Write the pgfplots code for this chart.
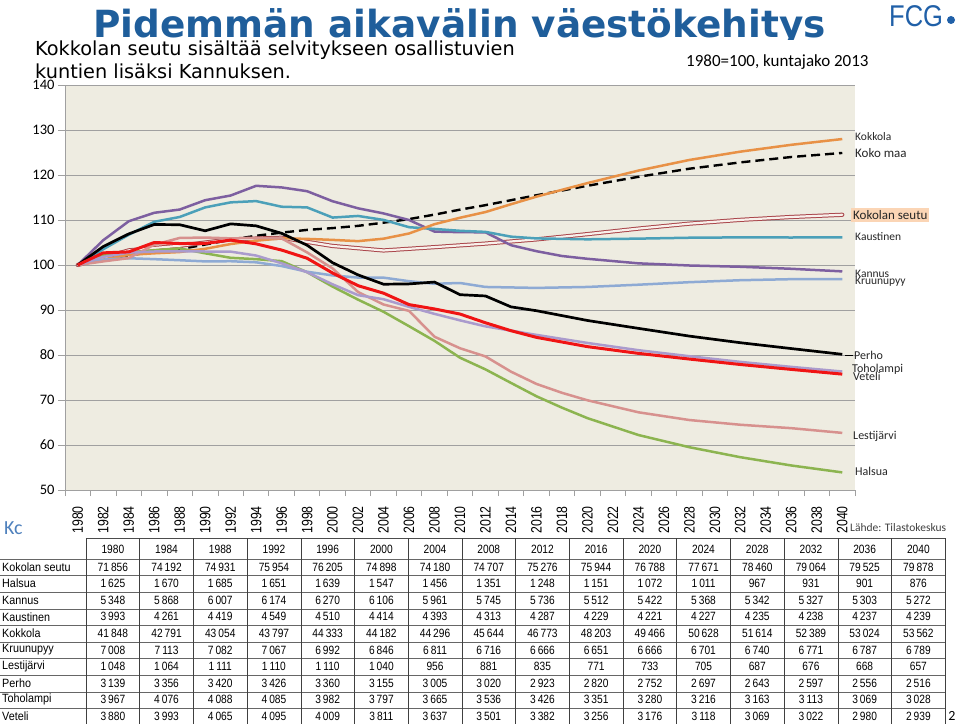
\documentclass[border=0pt]{standalone}
\usepackage{fontspec}
\usepackage{pgfplots}
\pgfplotsset{compat=1.18}
\setmainfont{Liberation Sans}
\newfontfamily\titlefont{DejaVu Sans}
\newfontfamily\calfont{Carlito}
\newfontfamily\narrowfont[FakeStretch=0.82]{Liberation Sans}
\newfontfamily\tabnum[FakeStretch=0.85]{Liberation Sans}
\newfontfamily\tablab[FakeStretch=0.9]{Liberation Sans}
\newfontfamily\fcgfont[FakeStretch=0.85]{Liberation Sans}
\definecolor{titleblue}{RGB}{31,94,155}
\definecolor{kcblue}{RGB}{79,129,189}
\definecolor{fcgblue}{RGB}{32,96,168}
\definecolor{bgbeige}{RGB}{238,236,225}
\definecolor{gridgray}{RGB}{160,160,160}
\definecolor{cOrange}{RGB}{232,145,70}
\definecolor{cTeal}{RGB}{75,160,185}
\definecolor{cPurple}{RGB}{125,95,160}
\definecolor{cLblue}{RGB}{142,170,212}
\definecolor{cRose}{RGB}{215,145,142}
\definecolor{cLav}{RGB}{170,155,205}
\definecolor{cGreen}{RGB}{140,180,80}
\definecolor{cRed}{RGB}{240,20,20}
\definecolor{cKs}{RGB}{170,70,75}
\definecolor{cKsIn}{RGB}{248,240,235}
\definecolor{lblfill}{RGB}{251,213,181}
\begin{document}
\begin{tikzpicture}[x=1pt,y=1pt]
\useasboundingbox (0,0) rectangle (960,724);
\fill[white] (0,0) rectangle (960,724);
% title
\node[anchor=base, inner sep=0pt, text=titleblue, font=\titlefont\bfseries\fontsize{37.4}{40}\selectfont] at (459.5,686) {Pidemmän aikavälin väestökehitys};
\fill[white] (28,642) rectangle (860,684);
\node[anchor=base west, inner sep=0pt, font=\titlefont\fontsize{19.3}{22}\selectfont] at (35,668) {Kokkolan seutu sisältää selvitykseen osallistuvien};
\node[anchor=base west, inner sep=0pt, font=\titlefont\fontsize{19.3}{22}\selectfont] at (35,645) {kuntien lisäksi Kannuksen.};
\node[anchor=west, inner sep=0pt, font=\calfont\fontsize{17}{18}\selectfont] at (686,662) {1980=100, kuntajako 2013};
% logo
\node[anchor=base west, inner sep=0pt, text=fcgblue, font=\fcgfont\fontsize{30}{32}\selectfont] at (889,697) {FCG};
\fill[fcgblue] (951,704) circle (4);
% chart
\begin{axis}[
  at={(65pt,234pt)}, anchor=south west, scale only axis,
  width=790pt, height=405pt,
  xmin=1979, xmax=2041, ymin=50, ymax=140,
  axis x line*=bottom, axis y line*=left,
  axis line style={draw=gridgray, line width=0.8pt},
  axis background/.style={fill=bgbeige},
  ymajorgrids=true,
  grid style={draw=gridgray, line width=0.8pt},
  ytick={50,60,...,140},
  xtick={1980,1982,...,2040},
  minor xtick={1979,1981,...,2041},
  tick align=outside,
  major tick length=7pt, minor tick length=6pt,
  major x tick style={draw=none},
  minor x tick style={draw=gridgray, line width=0.8pt},
  ytick style={draw=gridgray, line width=0.8pt},
  /pgf/number format/.cd, 1000 sep={}, assume math mode=true, /pgfplots/.cd,
  yticklabel style={font=\calfont\fontsize{14.5}{15}\selectfont},
  xticklabel style={font=\narrowfont\fontsize{15}{15}\selectfont, rotate=90, anchor=east, inner sep=0pt},
  xticklabel shift=9pt,
  every axis plot/.append style={line join=round, no markers},
]
% Koko maa
\addplot[black, line width=2.4pt, dash pattern=on 9pt off 5pt] coordinates {
(1980,100)(1984,102.2)(1988,103.5)(1992,105.6)(1994,106.5)(1996,107.2)(1998,107.8)(2000,108.2)(2002,108.7)(2004,109.4)(2006,110.2)(2008,111.2)(2010,112.3)(2012,113.3)(2016,115.5)(2020,117.6)(2024,119.6)(2028,121.4)(2032,122.8)(2036,124.0)(2040,124.9)};
% Kokolan seutu
\addplot[draw=cKs, line width=1pt, double=cKsIn, double distance=2.2pt, line cap=round] coordinates {
(1980,100)(1984,103.25)(1988,104.28)(1992,105.70)(1996,106.05)(2000,104.23)(2004,103.23)(2008,103.97)(2012,104.76)(2016,105.69)(2020,106.86)(2024,108.09)(2028,109.19)(2032,110.03)(2036,110.67)(2040,111.16)};
% Halsua
\addplot[cGreen, line width=2.5pt] coordinates {
(1980,100)(1982,102.3)(1984,102.77)(1986,103.3)(1988,103.69)(1990,102.6)(1992,101.60)(1994,101.3)(1996,100.86)(1998,98.4)(2000,95.20)(2002,92.3)(2004,89.60)(2006,86.4)(2008,83.14)(2010,79.4)(2012,76.80)(2014,73.8)(2016,70.83)(2018,68.3)(2020,65.97)(2024,62.22)(2028,59.51)(2032,57.29)(2036,55.45)(2040,53.91)};
% Kannus
\addplot[cPurple, line width=2.5pt] coordinates {
(1980,100)(1982,105.5)(1984,109.72)(1986,111.6)(1988,112.32)(1990,114.4)(1992,115.44)(1994,117.6)(1996,117.24)(1998,116.4)(2000,114.17)(2002,112.6)(2004,111.46)(2006,110.0)(2008,107.42)(2010,107.3)(2012,107.26)(2014,104.4)(2016,103.07)(2018,102.0)(2020,101.38)(2024,100.37)(2028,99.89)(2032,99.61)(2036,99.16)(2040,98.58)};
% Kaustinen
\addplot[cTeal, line width=2.5pt] coordinates {
(1980,100)(1982,103.5)(1984,106.71)(1986,109.6)(1988,110.67)(1990,112.8)(1992,113.92)(1994,114.2)(1996,112.95)(1998,112.8)(2000,110.54)(2002,110.9)(2004,110.02)(2006,108.4)(2008,108.01)(2010,107.6)(2012,107.36)(2014,106.3)(2016,105.91)(2020,105.71)(2024,105.86)(2028,106.06)(2032,106.14)(2036,106.11)(2040,106.16)};
% Kokkola
\addplot[cOrange, line width=2.5pt] coordinates {
(1980,100)(1982,101.2)(1984,102.25)(1986,102.6)(1988,102.88)(1990,103.6)(1992,104.66)(1994,105.4)(1996,105.94)(1998,105.8)(2000,105.58)(2002,105.3)(2004,105.85)(2006,107.0)(2008,109.07)(2010,110.5)(2012,111.77)(2014,113.5)(2016,115.19)(2018,116.7)(2020,118.2)(2024,120.98)(2028,123.34)(2032,125.19)(2036,126.71)(2040,127.99)};
% Kruunupyy
\addplot[cLblue, line width=2.5pt] coordinates {
(1980,100)(1982,101.2)(1984,101.50)(1986,101.3)(1988,101.06)(1990,100.8)(1992,100.84)(1994,100.6)(1996,99.77)(1998,98.5)(2000,97.69)(2002,97.2)(2004,97.19)(2006,96.4)(2008,95.83)(2010,96.0)(2012,95.12)(2016,94.91)(2020,95.12)(2024,95.62)(2028,96.18)(2032,96.62)(2036,96.85)(2040,96.87)};
% Lestijarvi
\addplot[cRose, line width=2.5pt] coordinates {
(1980,100)(1982,100.8)(1984,101.53)(1986,104.5)(1988,106.01)(1990,106.1)(1992,105.92)(1994,106.0)(1996,105.92)(1998,102.8)(2000,99.24)(2002,94.0)(2004,91.22)(2006,89.8)(2008,84.06)(2010,81.5)(2012,79.68)(2014,76.3)(2016,73.57)(2018,71.6)(2020,69.94)(2024,67.27)(2028,65.55)(2032,64.50)(2036,63.74)(2040,62.69)};
% Toholampi
\addplot[cLav, line width=2.5pt] coordinates {
(1980,100)(1982,101.8)(1984,102.75)(1986,103.0)(1988,103.05)(1990,103.0)(1992,102.97)(1994,102.1)(1996,100.38)(1998,98.4)(2000,95.71)(2002,93.3)(2004,92.39)(2006,90.7)(2008,89.14)(2010,87.7)(2012,86.36)(2016,84.47)(2020,82.68)(2024,81.07)(2028,79.73)(2032,78.47)(2036,77.36)(2040,76.33)};
% Perho
\addplot[black, line width=2.7pt] coordinates {
(1980,100)(1982,104.1)(1984,106.91)(1986,109.0)(1988,108.95)(1990,107.6)(1992,109.14)(1994,108.7)(1996,107.04)(1998,104.4)(2000,100.51)(2002,97.8)(2004,95.73)(2006,95.8)(2008,96.21)(2010,93.4)(2012,93.12)(2014,90.7)(2016,89.84)(2020,87.67)(2024,85.92)(2028,84.20)(2032,82.73)(2036,81.43)(2040,80.15)};
% Veteli
\addplot[cRed, line width=3pt] coordinates {
(1980,100)(1982,102.7)(1984,102.91)(1986,105.0)(1988,104.77)(1990,104.8)(1992,105.54)(1994,104.7)(1996,103.32)(1998,101.5)(2000,98.22)(2002,95.4)(2004,93.74)(2006,91.2)(2008,90.23)(2010,89.1)(2012,87.16)(2014,85.4)(2016,83.92)(2020,81.86)(2024,80.36)(2028,79.10)(2032,77.89)(2036,76.80)(2040,75.75)};
\end{axis}
% series labels
\begin{scope}[every node/.style={anchor=west, inner sep=0pt, text=black!85}]
\node[font=\calfont\fontsize{11.5}{12}\selectfont] at (855,587) {Kokkola};
\node[font=\calfont\fontsize{13}{14}\selectfont] at (855,571) {Koko maa};
\node[font=\calfont\fontsize{13}{14}\selectfont, fill=lblfill, inner sep=2pt] at (851,509) {Kokolan seutu};
\node[font=\calfont\fontsize{11.5}{12}\selectfont] at (855,487) {Kaustinen};
\node[font=\calfont\fontsize{11.5}{12}\selectfont] at (855,450) {Kannus};
\node[font=\calfont\fontsize{11.5}{12}\selectfont] at (855,442) {Kruunupyy};
\node[font=\calfont\fontsize{12}{13}\selectfont] at (854,369) {Perho};
\node[font=\calfont\fontsize{12}{13}\selectfont] at (852,355) {Toholampi};
\node[font=\calfont\fontsize{12}{13}\selectfont] at (853,348) {Veteli};
\node[font=\calfont\fontsize{12}{13}\selectfont] at (853,288) {Lestijärvi};
\node[font=\calfont\fontsize{12}{13}\selectfont] at (855,253) {Halsua};
\end{scope}
\draw[black, line width=0.8pt] (845,369) -- (853,369);
\node[anchor=west, inner sep=0pt, text=kcblue, font=\calfont\fontsize{20}{22}\selectfont] at (4,196) {Kc};
\node[anchor=west, inner sep=0pt, text=black!75, font=\calfont\fontsize{11.5}{12}\selectfont] at (850,196) {Lähde: Tilastokeskus};
% table
\begin{scope}[every node/.style={inner sep=0pt}]
\draw[black!70, line width=0.6pt] (86,186) -- (945.2,186);
\foreach \k in {0,...,10} \draw[black!60, line width=0.6pt] (0,{165-16.6*\k}) -- (945.2,{165-16.6*\k});
\foreach \k in {0,...,16} \draw[black!75, line width=0.6pt] ({86+53.7*\k},186) -- ({86+53.7*\k},0);
\foreach \yr [count=\c] in {1980,1984,1988,1992,1996,2000,2004,2008,2012,2016,2020,2024,2028,2032,2036,2040}
  \node[font=\tabnum\fontsize{12}{13}\selectfont] at ({86+53.7*(\c-0.5)},175) {\yr};
\foreach \nm/\vals [count=\r] in {
 {Kokolan seutu}/{71\,856,74\,192,74\,931,75\,954,76\,205,74\,898,74\,180,74\,707,75\,276,75\,944,76\,788,77\,671,78\,460,79\,064,79\,525,79\,878},
 {Halsua}/{1\,625,1\,670,1\,685,1\,651,1\,639,1\,547,1\,456,1\,351,1\,248,1\,151,1\,072,1\,011,967,931,901,876},
 {Kannus}/{5\,348,5\,868,6\,007,6\,174,6\,270,6\,106,5\,961,5\,745,5\,736,5\,512,5\,422,5\,368,5\,342,5\,327,5\,303,5\,272},
 {Kaustinen}/{3\,993,4\,261,4\,419,4\,549,4\,510,4\,414,4\,393,4\,313,4\,287,4\,229,4\,221,4\,227,4\,235,4\,238,4\,237,4\,239},
 {Kokkola}/{41\,848,42\,791,43\,054,43\,797,44\,333,44\,182,44\,296,45\,644,46\,773,48\,203,49\,466,50\,628,51\,614,52\,389,53\,024,53\,562},
 {Kruunupyy}/{7\,008,7\,113,7\,082,7\,067,6\,992,6\,846,6\,811,6\,716,6\,666,6\,651,6\,666,6\,701,6\,740,6\,771,6\,787,6\,789},
 {Lestijärvi}/{1\,048,1\,064,1\,111,1\,110,1\,110,1\,040,956,881,835,771,733,705,687,676,668,657},
 {Perho}/{3\,139,3\,356,3\,420,3\,426,3\,360,3\,155,3\,005,3\,020,2\,923,2\,820,2\,752,2\,697,2\,643,2\,597,2\,556,2\,516},
 {Toholampi}/{3\,967,4\,076,4\,088,4\,085,3\,982,3\,797,3\,665,3\,536,3\,426,3\,351,3\,280,3\,216,3\,163,3\,113,3\,069,3\,028},
 {Veteli}/{3\,880,3\,993,4\,065,4\,095,4\,009,3\,811,3\,637,3\,501,3\,382,3\,256,3\,176,3\,118,3\,069,3\,022,2\,980,2\,939}}
{
  \node[anchor=west, font=\tablab\fontsize{12}{13}\selectfont] at (2,{157-16.6*(\r-1)}) {\nm};
  \foreach \v [count=\c] in \vals
    \node[font=\tabnum\fontsize{12}{13}\selectfont] at ({86+53.7*(\c-0.5)},{157-16.6*(\r-1)}) {\v};
}
\end{scope}
\node[anchor=center, inner sep=0pt, font=\calfont\fontsize{14}{15}\selectfont] at (952,8) {2};
\end{tikzpicture}
\end{document}
